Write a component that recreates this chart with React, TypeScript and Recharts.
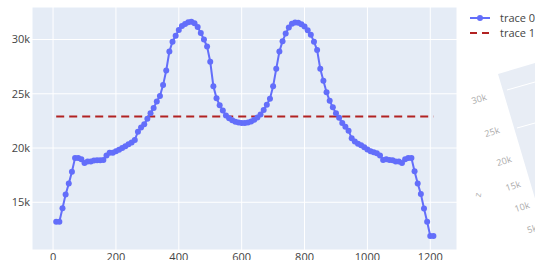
import { LineChart, Line, XAxis, YAxis, CartesianGrid } from 'recharts';

const xValues = [
  10, 20, 30, 40, 50, 60, 70, 80, 90, 100,
  110, 120, 130, 140, 150, 160, 170, 180, 190, 200,
  210, 220, 230, 240, 250, 260, 270, 280, 290, 300,
  310, 320, 330, 340, 350, 360, 370, 380, 390, 400,
  410, 420, 430, 440, 450, 460, 470, 480, 490, 500,
  510, 520, 530, 540, 550, 560, 570, 580, 590, 600,
  610, 620, 630, 640, 650, 660, 670, 680, 690, 700,
  710, 720, 730, 740, 750, 760, 770, 780, 790, 800,
  810, 820, 830, 840, 850, 860, 870, 880, 890, 900,
  910, 920, 930, 940, 950, 960, 970, 980, 990, 1000,
  1010, 1020, 1030, 1040, 1050, 1060, 1070, 1080, 1090, 1100,
  1110, 1120, 1130, 1140, 1150, 1160, 1170, 1180, 1190, 1200,
  1210,
];

const trace0 = [
  13200, 13200, 14450, 15720, 16720, 17820, 19090, 19090, 18960, 18630,
  18750, 18750, 18840, 18870, 18870, 18900, 19300, 19560, 19560, 19700,
  19850, 20000, 20170, 20350, 20500, 20750, 21500, 21900, 22200, 22700,
  23200, 23700, 24300, 24800, 25800, 27150, 28900, 29800, 30350, 30880,
  31250, 31430, 31600, 31650, 31500, 31150, 30600, 30000, 29350, 27950,
  25700, 24600, 23950, 23450, 23000, 22750, 22550, 22420, 22350, 22300,
  22300, 22350, 22450, 22600, 22820, 23100, 23500, 24000, 24550, 25700,
  27300, 28900, 29850, 30550, 31100, 31450, 31580, 31550, 31400, 31200,
  30850, 30450, 29800, 29030, 27300, 26200, 25150, 24350, 23750, 23200,
  22800, 22300, 21950, 21600, 20900, 20600, 20400, 20250, 20070, 19860,
  19700, 19610, 19520, 19300, 18900, 18960, 18900, 18870, 18750, 18750,
  18630, 18960, 19090, 19090, 17850, 16740, 15760, 14430, 13200, 11900,
  11900,
];

const trace1X = [10, 1210];
const trace1Y = [22900, 22900];

const xTicks = [0, 200, 400, 600, 800, 1000, 1200];
const yTicks = [15000, 20000, 25000, 30000];

const sceneTicks = ['30k', '25k', '20k', '15k', '10k', '5k'];

const data0 = xValues.map((x, i) => ({ x, y: trace0[i] }));
const data1 = trace1X.map((x, i) => ({ x, y: trace1Y[i] }));

const font = '"Open Sans", Verdana, Arial, sans-serif';
const tickStyle = { fontSize: 11, fill: '#444', fontFamily: font };

// rough positions of the partly visible 3D scene labels
const scenePos = [
  [480, 102], [493, 135], [505, 164], [514, 189], [523, 210], [533, 232],
];

export default function App() {
  return (
    <div style={{ position: 'absolute', left: 0, top: 0, width: 535, height: 260, background: '#fff' }}>
      <svg width={535} height={260} style={{ position: 'absolute', left: 0, top: 0 }}>
        <polygon points="498,74 535,63 535,205 545,232" fill="#E8EDF5" />
        <line x1={507} y1={90} x2={535} y2={82} stroke="#fff" strokeWidth={1} />
        <line x1={517} y1={128} x2={535} y2={123} stroke="#fff" strokeWidth={1} />
        {sceneTicks.map((t, i) => (
          <text
            key={t}
            x={scenePos[i][0]}
            y={scenePos[i][1]}
            fontSize={9}
            fill="#aaa"
            fontFamily={font}
            textAnchor="middle"
            transform={`rotate(-18 ${scenePos[i][0]} ${scenePos[i][1]})`}
          >
            {t}
          </text>
        ))}
        <text x={478} y={198} fontSize={9} fill="#aaa" fontFamily={font} textAnchor="middle"
          transform="rotate(-80 478 195)">z</text>
      </svg>
      <div style={{ position: 'absolute', left: 0, top: 0 }}>
        <LineChart width={535} height={260} data={data0} margin={{ top: 7, right: 78, bottom: 0, left: 0 }}>
          <CartesianGrid fill="#E5ECF6" stroke="#fff" strokeWidth={1} />
          <XAxis
            dataKey="x"
            type="number"
            domain={[-67, 1285]}
            ticks={xTicks}
            allowDataOverflow
            height={10}
            tickSize={0}
            tickMargin={3}
            axisLine={false}
            tickLine={false}
            tick={tickStyle}
            interval={0}
          />
          <YAxis
            type="number"
            domain={[10600, 33000]}
            ticks={yTicks}
            allowDataOverflow
            width={32}
            tickSize={0}
            tickMargin={2}
            axisLine={false}
            tickLine={false}
            tick={tickStyle}
            interval={0}
            tickFormatter={(v: number) => `${v / 1000}k`}
          />
          <Line
            data={data1}
            dataKey="y"
            stroke="#b22222"
            strokeWidth={2}
            strokeDasharray="8 5"
            dot={false}
            isAnimationActive={false}
          />
          <Line
            dataKey="y"
            stroke="#636efa"
            strokeWidth={2}
            dot={{ r: 3, fill: '#636efa', stroke: 'none' }}
            activeDot={false}
            isAnimationActive={false}
          />
        </LineChart>
      </div>
      <svg width={80} height={45} style={{ position: 'absolute', left: 465, top: 5 }}>
        <line x1={5} y1={13} x2={25} y2={13} stroke="#636efa" strokeWidth={2} />
        <circle cx={15} cy={13} r={3} fill="#636efa" />
        <text x={35} y={17} fontSize={11} fill="#444" fontFamily={font}>trace 0</text>
        <line x1={5} y1={28} x2={25} y2={28} stroke="#b22222" strokeWidth={2} strokeDasharray="7 5" />
        <text x={35} y={32} fontSize={11} fill="#444" fontFamily={font}>trace 1</text>
      </svg>
    </div>
  );
}
